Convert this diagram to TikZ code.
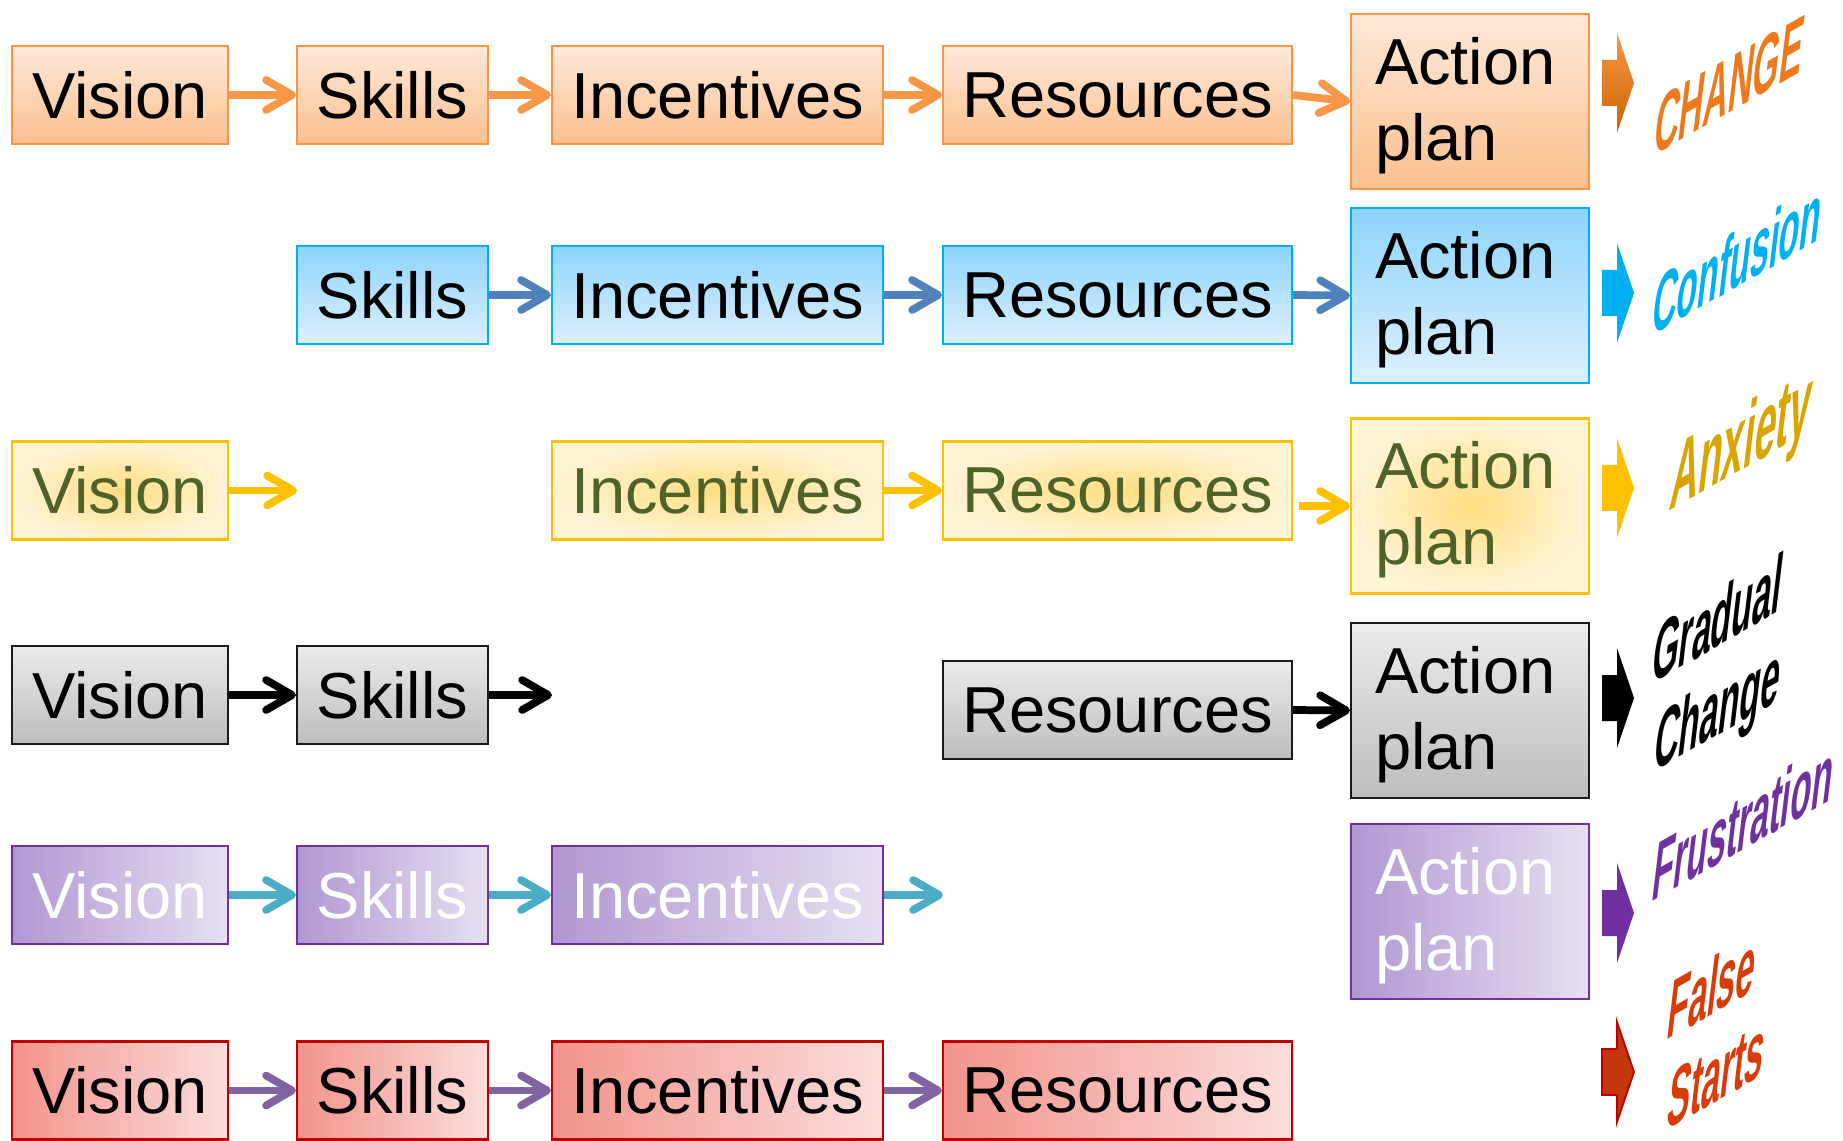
\documentclass[tikz,border=0pt]{standalone}
\usepackage{fontspec}
\setmainfont{Liberation Sans}
\usetikzlibrary{positioning, arrows.meta}

\definecolor{orangeline}{HTML}{F79646}
\definecolor{blueline}{HTML}{4F81BD}
\definecolor{goldline}{HTML}{FFC000}
\definecolor{tealline}{HTML}{4BACC6}
\definecolor{purpleline}{HTML}{8064A2}
\definecolor{peachtop}{HTML}{FEE9DA}
\definecolor{peachbot}{HTML}{FBC08E}
\definecolor{skytop}{HTML}{8DD4FB}
\definecolor{skybot}{HTML}{DDF0FD}
\definecolor{skyline}{HTML}{00B0F0}
\definecolor{goldin}{HTML}{FFDD80}
\definecolor{goldout}{HTML}{FFF4D6}
\definecolor{olive}{HTML}{4F6228}
\definecolor{greytop}{HTML}{EBEBEB}
\definecolor{greybot}{HTML}{BDBDBD}
\definecolor{lilacleft}{HTML}{B197D2}
\definecolor{lilacright}{HTML}{E6E0F1}
\definecolor{violetline}{HTML}{7030A0}
\definecolor{roseleft}{HTML}{F2938B}
\definecolor{roseright}{HTML}{FBDEDD}
\definecolor{roseline}{HTML}{C00000}
\definecolor{changeorange}{HTML}{EC7A1C}
\definecolor{anxietygold}{HTML}{D9A400}
\definecolor{falsered}{HTML}{D63D0A}

% fat block arrow in front of each outcome
\newcommand{\fatarrow}[2]{%
  \path[#1] (16.02,#2-0.23) -- (16.17,#2-0.23) -- (16.17,#2-0.5) -- (16.34,#2)
    -- (16.17,#2+0.5) -- (16.17,#2+0.23) -- (16.02,#2+0.23) -- cycle;}

\begin{document}
\begin{tikzpicture}[
  block/.style={draw, line width=0.6pt, rectangle, minimum height=0.98cm, inner sep=0pt, align=center, font=\fontsize{18.5}{22.2}\selectfont},
  vis/.style={block, minimum width=2.16cm},
  ski/.style={block, minimum width=1.91cm},
  inc/.style={block, minimum width=3.31cm},
  res/.style={block, minimum width=3.49cm},
  plan/.style={block, minimum width=2.38cm, minimum height=1.75cm, text width=1.9cm, text height=15.6pt, align=left, font=\fontsize{18.5}{21.6}\selectfont},
  rowA/.style={top color=peachtop, bottom color=peachbot, draw=orangeline},
  rowB/.style={top color=skytop, bottom color=skybot, draw=skyline},
  rowC/.style={inner color=goldin, outer color=goldout, draw=goldline, text=olive},
  rowD/.style={top color=greytop, bottom color=greybot, draw=black!90},
  rowE/.style={left color=lilacleft, right color=lilacright, draw=violetline, text=white},
  rowF/.style={left color=roseleft, right color=roseright, draw=roseline},
  arrow/.style={-{Straight Barb[length=0.26cm, width=0.3cm, round]}, line width=2.2pt},
  mood/.style={anchor=base west, inner sep=0pt, font=\fontsize{24.2}{29}\selectfont\bfseries, cm={0.40,0.228,0.12,1,(0,0)}}
]
\useasboundingbox (0,0) rectangle (18.43,11.40);

% row 1 : everything present
\node[vis, rowA] (vision1) at (1.20,10.45) {Vision};
\node[ski, rowA] (skills1) at (3.925,10.45) {Skills};
\node[inc, rowA] (incent1) at (7.175,10.45) {Incentives};
\node[res, rowA] (resour1) at (11.175,10.45) {Resources};
\node[plan, rowA] (plan1) at (14.70,10.385) {Action\\plan};

\draw[arrow, orangeline] (vision1.east) -- (skills1.west);
\draw[arrow, orangeline] (skills1.east) -- (incent1.west);
\draw[arrow, orangeline] (incent1.east) -- (resour1.west);
\draw[arrow, orangeline] (resour1.east) -- (plan1.west);

% row 2 : no vision
\node[ski, rowB] (skills2) at (3.925,8.45) {Skills};
\node[inc, rowB] (incent2) at (7.175,8.45) {Incentives};
\node[res, rowB] (resour2) at (11.175,8.45) {Resources};
\node[plan, rowB] (plan2) at (14.70,8.445) {Action\\plan};

\draw[arrow, blueline] (skills2.east) -- (incent2.west);
\draw[arrow, blueline] (incent2.east) -- (resour2.west);
\draw[arrow, blueline] (resour2.east) -- (plan2.west);

% row 3 : no skills
\node[vis, rowC] (vision3) at (1.20,6.495) {Vision};
\node[inc, rowC] (incent3) at (7.175,6.495) {Incentives};
\node[res, rowC] (resour3) at (11.175,6.495) {Resources};
\node[plan, rowC] (plan3) at (14.70,6.34) {Action\\plan};
\coordinate (gap3) at (2.97,6.495);

\draw[arrow, goldline] (vision3.east) -- (gap3);
\draw[arrow, goldline] (incent3.east) -- (resour3.west);
\draw[arrow, goldline, shorten <=0.06cm] (resour3.east |- plan3.west) -- (plan3.west);

% row 4 : no incentives
\node[vis, rowD] (vision4) at (1.20,4.45) {Vision};
\node[ski, rowD] (skills4) at (3.925,4.45) {Skills};
\node[res, rowD] (resour4) at (11.175,4.30) {Resources};
\node[plan, rowD] (plan4) at (14.70,4.295) {Action\\plan};
\coordinate (gap4) at (5.52,4.45);

\draw[arrow, black] (vision4.east) -- (skills4.west);
\draw[arrow, black] (skills4.east) -- (gap4);
\draw[arrow, black] (resour4.east) -- (plan4.west);

% row 5 : no resources
\node[vis, rowE] (vision5) at (1.20,2.45) {Vision};
\node[ski, rowE] (skills5) at (3.925,2.45) {Skills};
\node[inc, rowE] (incent5) at (7.175,2.45) {Incentives};
\node[plan, rowE] (plan5) at (14.70,2.285) {Action\\plan};
\coordinate (gap5) at (9.43,2.45);

\draw[arrow, tealline] (vision5.east) -- (skills5.west);
\draw[arrow, tealline] (skills5.east) -- (incent5.west);
\draw[arrow, tealline] (incent5.east) -- (gap5);

% row 6 : no action plan
\node[vis, rowF] (vision6) at (1.20,0.495) {Vision};
\node[ski, rowF] (skills6) at (3.925,0.495) {Skills};
\node[inc, rowF] (incent6) at (7.175,0.495) {Incentives};
\node[res, rowF] (resour6) at (11.175,0.495) {Resources};

\draw[arrow, purpleline] (vision6.east) -- (skills6.west);
\draw[arrow, purpleline] (skills6.east) -- (incent6.west);
\draw[arrow, purpleline] (incent6.east) -- (resour6.west);

% outcomes
\fatarrow{top color=orangeline, bottom color=orange!80!black}{10.57}
\fatarrow{fill=skyline}{8.47}
\fatarrow{fill=goldline}{6.52}
\fatarrow{fill=black}{4.42}
\fatarrow{fill=violetline}{2.27}
\fatarrow{fill=falsered!90!black, draw=roseline, line width=0.5pt}{0.68}

\node[mood, text=changeorange] (change) at (16.52,9.83) {CHANGE};
\node[mood, text=skyline] (confusion) at (16.50,8.03) {Confusion};
\node[mood, text=anxietygold, font=\fontsize{27.5}{33}\selectfont\bfseries] (anxiety) at (16.68,6.28) {Anxiety};
\node[mood, text=black] (gradual) at (16.50,4.55) {Gradual};
\node[mood, text=black] (gradual2) at (16.52,3.67) {Change};
\node[mood, text=violetline] (frustration) at (16.50,2.37) {Frustration};
\node[mood, text=falsered] (false) at (16.65,0.99) {False};
\node[mood, text=falsered] (false2) at (16.65,0.09) {Starts};

\end{tikzpicture}
\end{document}
